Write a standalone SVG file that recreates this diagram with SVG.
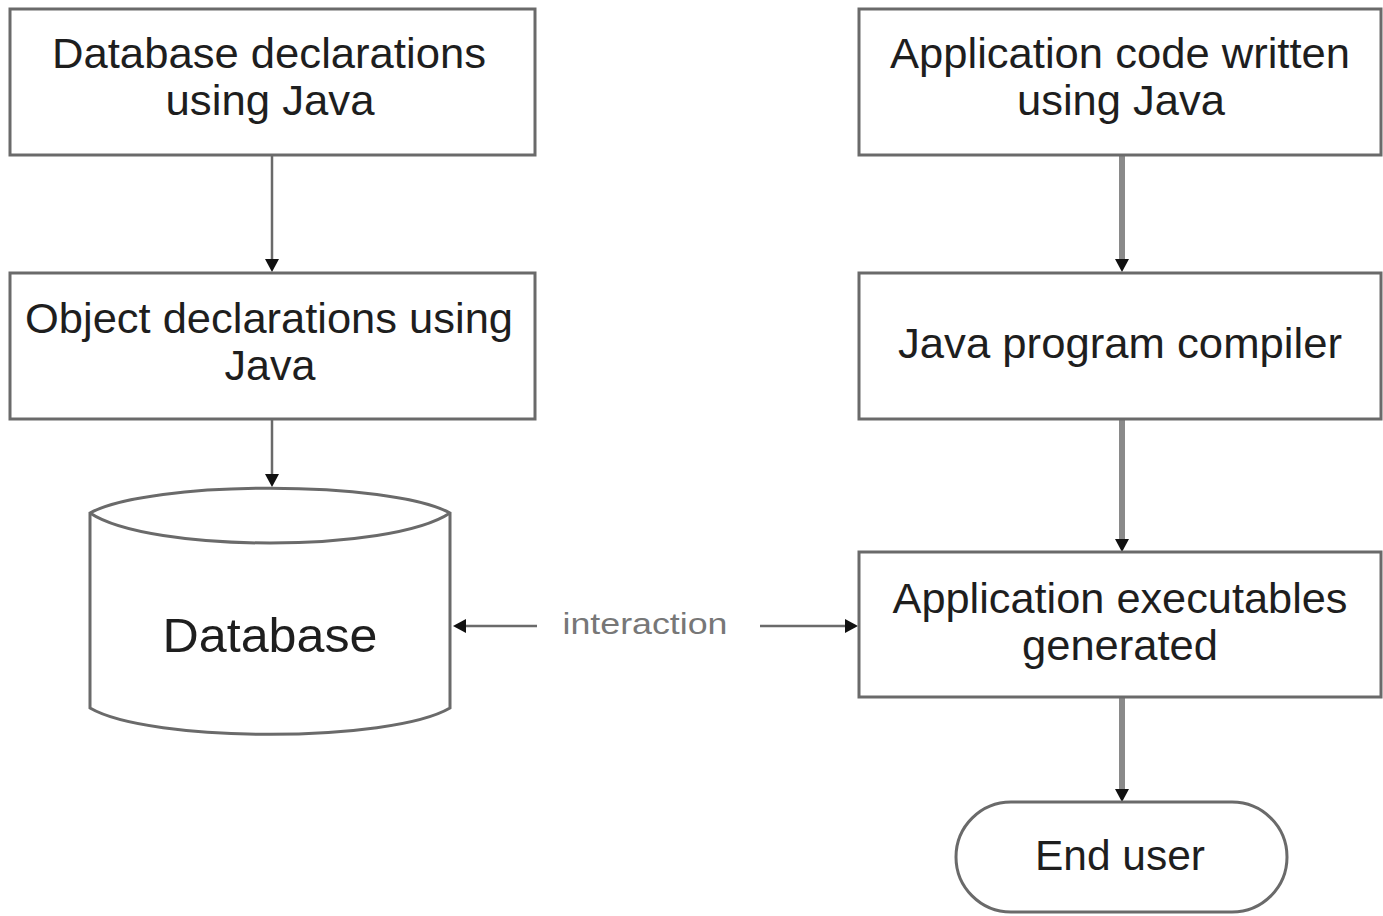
<svg xmlns="http://www.w3.org/2000/svg" width="1383" height="916" viewBox="0 0 1383 916">
<style>
.box{fill:#fff;stroke:#6a6a6a;stroke-width:3}
.t{font-family:"Liberation Sans",Arial,sans-serif;font-size:42px;fill:#1e1e1e;text-anchor:middle}
.thin{stroke:#6a6a6a;stroke-width:2.5;fill:none}
.thick{stroke:#8a8a8a;stroke-width:6;fill:none}
.lbl{font-family:"Liberation Sans",Arial,sans-serif;font-size:30px;fill:#777;text-anchor:middle}
</style>
<defs>
<marker id="ah" markerUnits="userSpaceOnUse" markerWidth="14" markerHeight="14" refX="0" refY="7" orient="auto">
<path d="M0,0 L13,7 L0,14 z" fill="#111"/>
</marker>
</defs>
<rect width="1383" height="916" fill="#fff"/>
<g id="connectors">
<line class="thin" x1="272" y1="155" x2="272" y2="259" marker-end="url(#ah)"/>
<line class="thin" x1="272" y1="419" x2="272" y2="474" marker-end="url(#ah)"/>
<line class="thick" x1="1122" y1="155" x2="1122" y2="259" marker-end="url(#ah)"/>
<line class="thick" x1="1122" y1="419" x2="1122" y2="539" marker-end="url(#ah)"/>
<line class="thick" x1="1122" y1="697" x2="1122" y2="789" marker-end="url(#ah)"/>
<line class="thin" x1="537" y1="626" x2="466" y2="626" marker-end="url(#ah)"/>
<line class="thin" x1="760" y1="626" x2="845" y2="626" marker-end="url(#ah)"/>
<text class="lbl" x="645" y="634" textLength="165" lengthAdjust="spacingAndGlyphs">interaction</text>
</g>
<g id="n1">
<rect class="box" x="10" y="9" width="525" height="146"/>
<text class="t" x="269" y="68" textLength="434" lengthAdjust="spacingAndGlyphs">Database declarations</text>
<text class="t" x="270" y="115" textLength="209" lengthAdjust="spacingAndGlyphs">using Java</text>
</g>
<g id="n2">
<rect class="box" x="10" y="273" width="525" height="146"/>
<text class="t" x="269" y="333" textLength="488" lengthAdjust="spacingAndGlyphs">Object declarations using</text>
<text class="t" x="270" y="380" textLength="91" lengthAdjust="spacingAndGlyphs">Java</text>
</g>
<g id="db">
<path class="box" d="M90,513 C150,480 390,480 450,513 L450,708 C390,743 150,743 90,708 Z"/>
<path class="box" style="fill:none" d="M90,513 C150,553 390,553 450,513"/>
<text class="t" x="270" y="652" style="font-size:48px" textLength="215" lengthAdjust="spacingAndGlyphs">Database</text>
</g>
<g id="n3">
<rect class="box" x="859" y="9" width="522" height="146"/>
<text class="t" x="1120" y="68" textLength="460" lengthAdjust="spacingAndGlyphs">Application code written</text>
<text class="t" x="1121" y="115" textLength="208" lengthAdjust="spacingAndGlyphs">using Java</text>
</g>
<g id="n4">
<rect class="box" x="859" y="273" width="522" height="146"/>
<text class="t" x="1120" y="358" textLength="444" lengthAdjust="spacingAndGlyphs">Java program compiler</text>
</g>
<g id="n5">
<rect class="box" x="859" y="552" width="522" height="145"/>
<text class="t" x="1120" y="613" textLength="455" lengthAdjust="spacingAndGlyphs">Application executables</text>
<text class="t" x="1120" y="660" textLength="196" lengthAdjust="spacingAndGlyphs">generated</text>
</g>
<g id="n6">
<rect class="box" x="956" y="802" width="331" height="110" rx="55" ry="55"/>
<text class="t" x="1120" y="870" textLength="170" lengthAdjust="spacingAndGlyphs">End user</text>
</g>
</svg>
